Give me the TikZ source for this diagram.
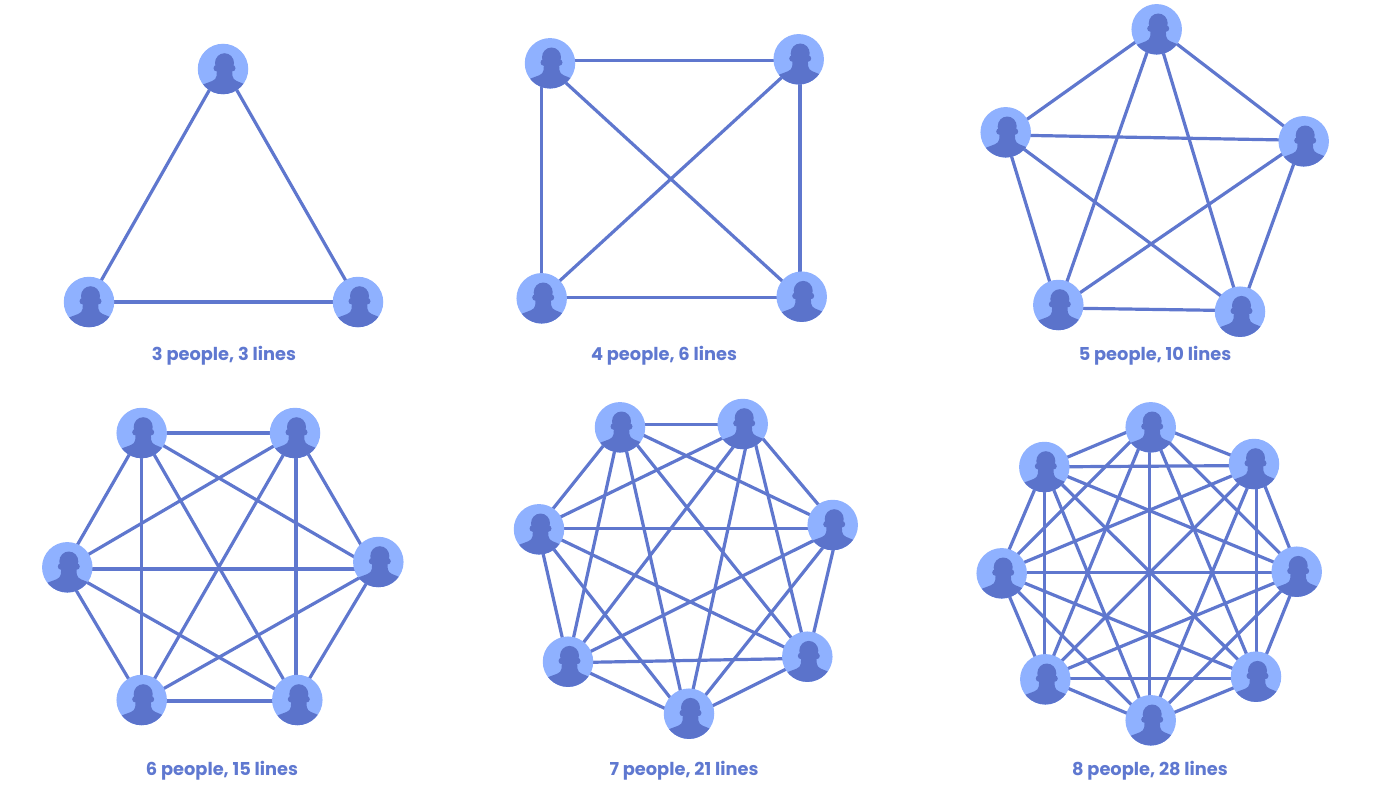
\documentclass[tikz,border=0pt]{standalone}
\usepackage{fontspec}
\setmainfont{Poppins}
\usetikzlibrary{backgrounds}
\definecolor{avatarbg}{HTML}{8FB1FF}
\definecolor{avatarfg}{HTML}{5B73CB}
\definecolor{edgecol}{HTML}{5F77CE}
\definecolor{labelcol}{HTML}{5F78D0}
\tikzset{
  person/.style={circle,draw=none,fill=avatarbg,minimum size=50.5pt,inner sep=0pt,outer sep=0pt,
    path picture={
      \begin{scope}[shift={(path picture bounding box.center)}]
        \fill[avatarfg] (1.5,-6) ellipse [x radius=9.5,y radius=9.8];
        \fill[avatarfg] (-6.2,-0.8) circle [radius=3.3];
        \fill[avatarfg] (9.2,-0.8) circle [radius=3.3];
        \fill[avatarfg] (-30,30) -- (-30,20) -- (-20,15.5) .. controls (-13,12.5) and (-7,12) .. (-6.5,7)
          -- (-6,0) -- (9,0) -- (9.5,7) .. controls (10,12) and (16,12.5) .. (21,15) -- (30,20) -- (30,30) -- cycle;
      \end{scope}
    }},
  link/.style={draw=edgecol,line width=3.2pt},
  caption/.style={text=labelcol,font=\fontsize{17.8}{20}\selectfont\bfseries,inner sep=0pt,anchor=base}
}
% name, avatar centre, hub where its lines meet
\newcommand{\personat}[3]{%
  \node[person] (#1) at (#2) {};
  \coordinate (#1h) at (#3);}
\newcommand{\fullgraph}[2]{%
  \begin{pgfonlayer}{background}
  \foreach \i in {1,...,#2}{\foreach \j in {\i,...,#2}{%
    \ifnum\i<\j\relax \draw[link] (#1\i h) -- (#1\j h);\fi}}
  \end{pgfonlayer}}
\begin{document}
\begin{tikzpicture}[x=1pt,y=-1pt]
\useasboundingbox (0,0) rectangle (1390,792);
% 3
\personat{a1}{223,69}{223,66}
\personat{a2}{89,302}{89,302}
\personat{a3}{358,302}{358,302}
\fullgraph{a}{3}
\node[caption] (capa) at (224,360) {3 people, 3 lines};
% 4
\personat{b1}{550,63.3}{541.7,60.7}
\personat{b2}{798.7,59.3}{800,60.7}
\personat{b3}{541.7,298.3}{541.7,297.3}
\personat{b4}{801.7,296.7}{800,297.3}
\fullgraph{b}{4}
\node[caption] (capb) at (664,360) {4 people, 6 lines};
% 5
\personat{c1}{1156.7,29.3}{1155.7,27.7}
\personat{c2}{1005.7,132.3}{1005,135}
\personat{c3}{1303.7,141.3}{1302.3,140.3}
\personat{c4}{1058.3,305}{1057.7,308}
\personat{c5}{1240,311.7}{1240.7,310.7}
\fullgraph{c}{5}
\node[caption] (capc) at (1155,360) {5 people, 10 lines};
% 6
\personat{d1}{141.7,433}{141.7,433}
\personat{d2}{295,433}{296,433}
\personat{d3}{67.3,567.3}{63.5,569}
\personat{d4}{378.3,562}{375,569}
\personat{d5}{141.7,700}{141.7,701}
\personat{d6}{297.3,700}{296,701}
\fullgraph{d}{6}
\node[caption] (capd) at (222,775) {6 people, 15 lines};
% 7
\personat{e1}{620,427.3}{620.5,424.3}
\personat{e2}{742.7,424}{750.7,424.3}
\personat{e3}{539,529.3}{537.3,528.3}
\personat{e4}{832.7,525}{838.3,528.3}
\personat{e5}{568,661.7}{568,662.7}
\personat{e6}{807.3,656.7}{807.7,658.3}
\personat{e7}{689,713.7}{686.7,718.7}
\fullgraph{e}{7}
\node[caption] (cape) at (684,775) {7 people, 21 lines};
% 8
\personat{f1}{1150.7,427.3}{1149.3,422.7}
\personat{f2}{1044.3,467}{1044.3,466.9}
\personat{f3}{1254,464}{1256.7,465.5}
\personat{f4}{1001.7,573.3}{999.3,572.7}
\personat{f5}{1296.7,571.7}{1299.3,572.7}
\personat{f6}{1045.3,679.3}{1044.3,678.3}
\personat{f7}{1256,676.7}{1256.7,678.3}
\personat{f8}{1150.7,720.3}{1149.3,722.7}
\fullgraph{f}{8}
\node[caption] (capf) at (1150,775) {8 people, 28 lines};
\end{tikzpicture}
\end{document}
